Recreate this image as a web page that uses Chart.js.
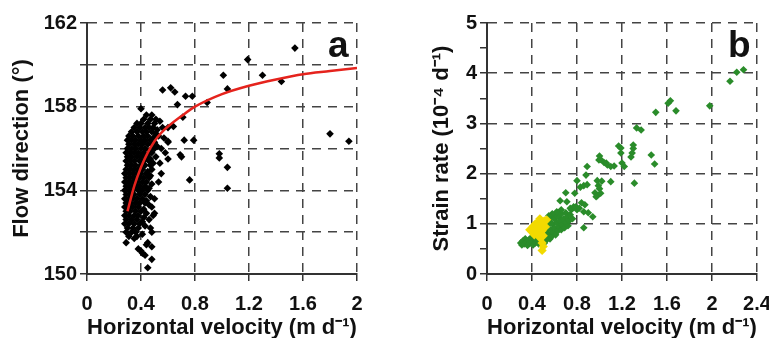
<!DOCTYPE html>
<html lang="en">
<head>
<meta charset="UTF-8">
<script src="https://cdn.jsdelivr.net/npm/chart.js"></script>
<title>Flow direction and strain rate</title>
<style>
    body { margin: 0; background: #fff; }
    canvas { position: absolute; top: 0; }
    #chartA { left: 0; }
    #chartB { left: 420px; }
    .panel { position: absolute; font-family: "Liberation Sans", Arial, sans-serif; font-weight: bold; font-size: 37px; line-height: 37px; color: #111; }
</style>
</head>
<body>
<canvas id="chartA" width="380" height="338"></canvas>
<canvas id="chartB" width="349" height="338"></canvas>
<div class="panel" style="left:328px; top:26px">a</div>
<div class="panel" style="left:728px; top:26px">b</div>
<script>
// panel a: velocity (m/d) vs flow direction (deg)
var flowPts = [
    [0.40,157.9],
    [0.44,157.6],[0.48,157.6],
    [0.42,157.4],[0.47,157.4],[0.51,157.4],[0.54,157.3],
    [0.37,157.2],[0.40,157.2],[0.45,157.2],[0.50,157.2],
    [0.35,157.0],[0.39,157.0],[0.43,157.0],[0.46,157.0],[0.49,157.0],[0.52,156.9],[0.56,157.0],
    [0.33,156.8],[0.37,156.8],[0.41,156.8],[0.44,156.8],[0.48,156.8],[0.51,156.7],
    [0.31,156.6],[0.34,156.6],[0.38,156.6],[0.42,156.6],[0.45,156.6],[0.49,156.5],[0.53,156.6],
    [0.30,156.4],[0.33,156.4],[0.36,156.4],[0.40,156.4],[0.43,156.4],[0.47,156.4],[0.50,156.3],
    [0.31,156.2],[0.35,156.2],[0.38,156.2],[0.41,156.2],[0.45,156.2],[0.48,156.2],[0.52,156.1],
    [0.30,156.0],[0.33,156.0],[0.36,156.0],[0.40,156.0],[0.43,156.0],[0.46,155.9],[0.50,156.0],
    [0.29,155.8],[0.32,155.8],[0.35,155.8],[0.38,155.8],[0.42,155.8],[0.45,155.7],[0.48,155.8],
    [0.30,155.6],[0.33,155.6],[0.37,155.6],[0.40,155.6],[0.44,155.6],[0.47,155.5],[0.51,155.6],
    [0.29,155.4],[0.32,155.4],[0.35,155.4],[0.39,155.4],[0.42,155.4],[0.46,155.4],[0.49,155.3],
    [0.30,155.2],[0.33,155.2],[0.36,155.2],[0.40,155.2],[0.43,155.2],[0.47,155.2],
    [0.29,155.0],[0.32,155.0],[0.35,155.0],[0.38,155.0],[0.41,155.0],[0.45,154.9],[0.48,155.0],
    [0.28,154.8],[0.31,154.8],[0.34,154.8],[0.37,154.8],[0.40,154.8],[0.44,154.8],[0.47,154.7],
    [0.29,154.6],[0.32,154.6],[0.35,154.6],[0.39,154.6],[0.42,154.6],[0.46,154.6],
    [0.28,154.4],[0.31,154.4],[0.34,154.4],[0.37,154.4],[0.41,154.4],[0.44,154.4],[0.48,154.3],[0.53,154.4],
    [0.29,154.2],[0.32,154.2],[0.36,154.2],[0.39,154.2],[0.43,154.2],[0.46,154.1],
    [0.28,154.0],[0.31,154.0],[0.34,154.0],[0.38,154.0],[0.41,154.0],[0.45,154.0],
    [0.29,153.8],[0.32,153.8],[0.35,153.8],[0.39,153.8],[0.43,153.8],[0.47,153.7],
    [0.28,153.6],[0.31,153.6],[0.34,153.6],[0.37,153.6],[0.41,153.6],[0.44,153.5],[0.50,153.6],
    [0.29,153.4],[0.32,153.4],[0.36,153.4],[0.39,153.4],[0.43,153.4],[0.46,153.3],
    [0.28,153.2],[0.31,153.2],[0.34,153.2],[0.38,153.2],[0.42,153.1],[0.48,153.2],
    [0.29,153.0],[0.32,153.0],[0.36,153.0],[0.40,153.0],[0.44,152.9],[0.50,152.9],
    [0.28,152.8],[0.31,152.8],[0.35,152.8],[0.38,152.8],[0.42,152.7],[0.49,152.8],
    [0.29,152.6],[0.33,152.6],[0.37,152.6],[0.41,152.5],[0.46,152.6],
    [0.28,152.4],[0.31,152.4],[0.35,152.4],[0.39,152.4],[0.43,152.3],
    [0.30,152.2],[0.34,152.2],[0.38,152.2],[0.47,152.2],
    [0.29,152.0],[0.33,152.0],[0.36,152.0],[0.41,151.9],[0.48,152.0],
    [0.31,151.8],[0.37,151.8],
    [0.29,151.5],[0.35,151.7],[0.38,151.2],[0.41,151.0],[0.43,150.9],[0.45,151.5],[0.48,151.3],
    [0.48,150.7],[0.45,150.3],[0.44,151.4],[0.40,151.1],
    [0.55,156.0],[0.57,156.5],[0.60,157.0],[0.58,155.8],[0.54,155.3],[0.55,154.8],[0.60,156.3],
    [1.54,160.8],[1.19,160.25],[1.01,159.5],[1.30,159.5],[1.44,159.2],[1.04,158.85],
    [0.56,158.8],[0.62,158.9],[0.65,158.7],[0.73,158.5],[0.78,158.5],[0.89,158.2],[0.67,158.1],
    [0.71,157.5],[0.64,157.05],[0.72,156.4],[0.79,156.4],[0.60,156.35],[0.60,155.5],[0.69,155.7],
    [0.70,155.6],[0.98,155.75],[0.98,155.55],[1.04,155.1],[0.76,154.5],[1.04,154.1],
    [1.80,156.7],[1.94,156.35]
];
// fitted curve
var curveV = [0.30, 0.35, 0.40, 0.45, 0.50, 0.55, 0.60, 0.70, 0.80, 1.0, 1.2, 1.4, 1.6, 1.8, 2.0];
var curveD = [153.0, 154.2, 155.1, 155.8, 156.35, 156.75, 157.05, 157.55, 158.0, 158.6, 159.0, 159.3, 159.55, 159.7, 159.85];

// panel b: velocity (m/d) vs strain rate (1e-4 /d)
var strainGreen = [
    [0.30,0.62],[0.31,0.58],[0.32,0.66],[0.33,0.60],[0.34,0.70],[0.35,0.63],[0.36,0.57],[0.37,0.67],
    [0.38,0.61],[0.39,0.72],[0.40,0.64],[0.41,0.58],[0.42,0.69],[0.43,0.62],[0.44,0.74],[0.45,0.66],
    [0.46,0.60],[0.47,0.70],[0.48,0.64],[0.49,0.78],[0.50,0.68],[0.51,0.62],[0.52,0.74],[0.53,0.86],
    [0.53,0.68],[0.54,0.96],[0.55,0.78],[0.55,1.06],[0.56,0.70],[0.57,0.88],[0.57,1.14],[0.58,0.76],
    [0.58,1.00],[0.59,0.82],[0.60,1.10],[0.60,0.92],[0.61,1.18],[0.61,0.78],[0.62,1.02],[0.63,0.86],
    [0.63,1.22],[0.64,0.94],[0.64,1.12],[0.65,1.05],[0.66,0.88],[0.66,1.20],[0.67,0.98],[0.68,1.10],
    [0.69,0.92],[0.70,1.02],[0.70,1.22],[0.71,1.14],[0.72,0.96],[0.73,1.06],[0.74,1.18],[0.75,1.28],
    [0.76,1.10],[0.66,1.28],[0.62,1.24],[0.58,1.20],[0.55,1.16],[0.50,0.98],[0.47,0.90],
    [0.65,1.46],[0.71,1.44],[0.70,1.62],[0.74,1.31],[0.77,1.34],[0.79,1.34],[0.80,1.28],[0.82,1.31],
    [0.84,1.42],[0.86,1.24],[0.87,1.38],[0.86,0.92],[0.90,1.22],[0.94,1.14],[0.78,1.61],[0.80,1.86],
    [0.83,1.73],[0.86,1.76],[0.89,1.78],[0.88,1.97],[0.89,2.14],[0.96,1.62],[0.98,1.56],[0.97,1.54],
    [1.01,1.61],[0.99,1.76],[1.00,1.70],[0.98,1.86],[1.02,1.85],[1.10,1.84],[0.995,2.27],[1.00,2.35],
    [1.01,2.28],[1.04,2.22],[1.06,2.21],[1.07,2.17],[1.10,2.14],[1.13,2.15],
    [1.17,2.55],[1.19,2.51],[1.19,2.41],[1.20,2.21],[1.22,2.14],[1.28,2.33],[1.30,2.57],[1.30,2.50],
    [1.29,2.41],[1.31,1.81],[1.46,2.37],[1.49,2.19],[1.33,2.91],[1.37,2.87],[1.50,3.22],[1.61,3.40],
    [1.63,3.45],[1.68,3.25],[1.98,3.35],[2.16,3.84],[2.22,4.02],[2.28,4.07]
];
var strainYellow = [
    [0.38,0.88],[0.40,0.84],[0.41,0.95],[0.42,0.78],[0.43,1.00],[0.44,0.88],[0.45,0.80],
    [0.46,1.04],[0.46,0.92],[0.47,0.72],[0.48,0.98],[0.49,0.86],[0.49,0.62],[0.50,0.55],
    [0.49,0.47],[0.51,1.06],[0.52,0.94],[0.53,1.08],[0.47,1.10],[0.44,0.96],[0.50,0.76]
];

var FONT = '"Liberation Sans", Arial, sans-serif';
var INK = '#111';

function toXY(list) {
    return list.map(function (p) { return { x: p[0], y: p[1] }; });
}

// pin the axis boxes so the plot area lands where the figure has it
function pin(size, horizontal) {
    return function (scale) {
        if (horizontal) scale.height = size; else scale.width = size;
        scale.paddingLeft = 0; scale.paddingRight = 0;
        scale.paddingTop = 0; scale.paddingBottom = 0;
    };
}

function axis(opts) {
    return {
        type: 'linear',
        min: opts.min,
        max: opts.max,
        ticks: {
            stepSize: opts.step,
            autoSkip: false,
            maxRotation: 0,
            color: INK,
            padding: opts.horizontal ? 11 : 3,
            font: { family: FONT, size: 20, weight: 'bold' },
            callback: opts.label
        },
        grid: {
            color: opts.gridColor || '#444',
            lineWidth: 1.5,
            tickLength: 7,
            tickColor: '#333',
            tickWidth: 1.5,
            tickBorderDash: []
        },
        border: { color: '#333', width: 2, dash: [9, 7] },
        title: {
            display: true,
            text: opts.title,
            color: INK,
            font: { family: FONT, size: 22, weight: 'bold', lineHeight: 1.2 },
            padding: opts.titlePad
        },
        afterFit: pin(opts.size, opts.horizontal)
    };
}

function tidy(v) {
    return String(Math.round(v * 10) / 10);
}

var chartA = new Chart(document.getElementById('chartA'), {
    type: 'scatter',
    data: {
        datasets: [
            {
                data: curveV.map(function (v, i) { return { x: v, y: curveD[i] }; }),
                showLine: true,
                borderColor: '#e5231d',
                borderWidth: 2.5,
                pointRadius: 0,
                cubicInterpolationMode: 'monotone',
                order: 0
            },
            {
                data: toXY(flowPts),
                pointStyle: 'rectRot',
                pointRadius: 3.8,
                backgroundColor: '#000',
                borderWidth: 0,
                order: 1
            }
        ]
    },
    options: {
        responsive: false,
        animation: false,
        layout: { padding: { top: 23, right: 23, bottom: 0, left: 0 } },
        plugins: { legend: { display: false }, tooltip: { enabled: false } },
        scales: {
            x: axis({ min: 0, max: 2, step: 0.4, label: tidy, horizontal: true, size: 64,
                      title: 'Horizontal velocity (m d\u207B\u00B9)', titlePad: { top: 0, bottom: -3 } }),
            y: axis({ min: 150, max: 162, step: 2, horizontal: false, size: 87,
                      label: function (v) { return (v - 150) % 4 === 0 ? v : ''; },
                      title: 'Flow direction (\u00B0)', titlePad: { top: 9, bottom: 0 } })
        }
    }
});

var chartB = new Chart(document.getElementById('chartB'), {
    type: 'scatter',
    data: {
        datasets: [
            {
                data: toXY(strainYellow),
                pointStyle: 'rectRot',
                pointRadius: 4.6,
                backgroundColor: '#f2da00',
                borderWidth: 0,
                order: 0
            },
            {
                data: toXY(strainGreen),
                pointStyle: 'rectRot',
                pointRadius: 3.8,
                backgroundColor: '#2a8c2a',
                borderWidth: 0,
                order: 1
            }
        ]
    },
    options: {
        responsive: false,
        animation: false,
        layout: { padding: { top: 23, right: 12, bottom: 0, left: 0 } },
        plugins: { legend: { display: false }, tooltip: { enabled: false } },
        scales: {
            x: axis({ min: 0, max: 2.4, step: 0.4, label: tidy, horizontal: true, size: 64,
                      title: 'Horizontal velocity (m d\u207B\u00B9)', titlePad: { top: 0, bottom: -3 } }),
            y: axis({ min: 0, max: 5, step: 0.5, horizontal: false, size: 67,
                      label: function (v) { return v % 1 === 0 ? v : ''; },
                      gridColor: function (c) { return c.tick && c.tick.value % 1 !== 0 ? 'rgba(0,0,0,0)' : '#444'; },
                      title: 'Strain rate (10\u207B\u2074 d\u207B\u00B9)', titlePad: { top: 9, bottom: 0 } })
        }
    }
});
</script>
</body>
</html>
